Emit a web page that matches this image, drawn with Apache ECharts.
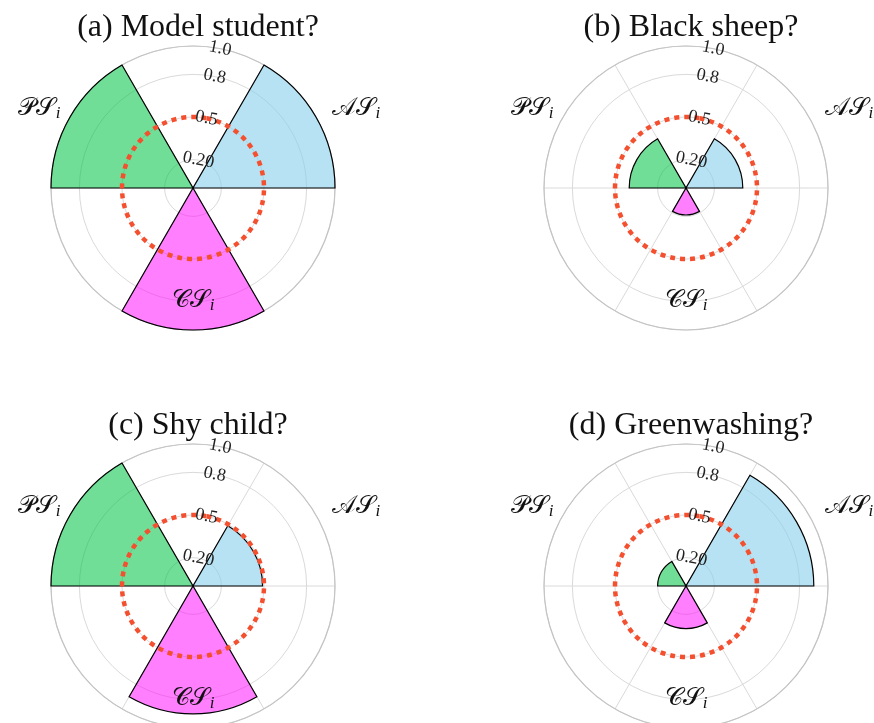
<!DOCTYPE html>
<html>
<head>
<meta charset="utf-8">
<script src="https://cdn.jsdelivr.net/npm/echarts@6/dist/echarts.min.js"></script>
<style>
  html, body { margin: 0; padding: 0; background: #ffffff; }
  #chart { width: 874px; height: 723px; }
</style>
</head>
<body>
<div id="chart"></div>
<script>
// Panel titles
const panelTitles = ['(a) Model student?', '(b) Black sheep?', '(c) Shy child?', '(d) Greenwashing?'];

// Scores per panel (a, b, c, d)
const asScores = [1.0, 0.40, 0.49, 0.90];
const psScores = [1.0, 0.40, 1.0, 0.20];
const csScores = [1.0, 0.19, 0.90, 0.30];

// Reference level drawn as the dotted circle
const thresholdValue = 0.5;

// Angular sectors: each score takes one 60-degree slot, the slots between stay empty
const sectorCategories = ['AS', 'gapAP', 'PS', 'gapPC', 'CS', 'gapCA'];
const scoreNames = { AS: '𝒜𝒮', PS: '𝒫𝒮', CS: '𝒞𝒮' };

// Radial rings and their labels
const radiusTicks = [0.2, 0.5, 0.8, 1.0];
const radiusTickLabels = ['0.20', '0.5', '0.8', '1.0'];

// ---- layout and styling ----
const centers = [[193, 188], [686, 188], [193, 586], [686, 586]];
const titleTops = [7, 7, 405, 405];
const R = 142;
const fills = {
  AS: 'rgba(135, 206, 235, 0.6)',
  PS: 'rgba(0, 196, 70, 0.56)',
  CS: 'rgba(255, 0, 255, 0.5)'
};
const serif = "'Liberation Serif', 'DejaVu Serif', serif";
const gridColor = '#dadada';

const scoreLabelPadding = {
  AS: [0, 0, 15, 52],
  PS: [0, 46, 15, 0],
  CS: [0, 0, 0, 0]
};

const option = {
  animation: false,
  backgroundColor: '#ffffff',
  title: [],
  polar: [],
  angleAxis: [],
  radiusAxis: [],
  series: []
};

panelTitles.forEach(function (text, p) {
  const c = centers[p];
  option.title.push({
    text: text,
    left: c[0],
    top: titleTops[p],
    textAlign: 'center',
    textStyle: { fontFamily: serif, fontSize: 32, fontWeight: 'normal', color: '#111111' }
  });

  const base = p * 3;
  // main polar: sectors, rings and spokes
  option.polar.push({ center: c, radius: R });
  // overlay: dotted reference circle and ring labels
  option.polar.push({ center: c, radius: R });
  // overlay: score names around the dial
  option.polar.push({ center: c, radius: R });

  option.angleAxis.push({
    polarIndex: base,
    type: 'category',
    data: sectorCategories,
    startAngle: 0,
    clockwise: false,
    boundaryGap: true,
    z: 0,
    axisLine: { show: true, lineStyle: { color: '#c4c4c4', width: 1.2 } },
    axisTick: { show: false },
    axisLabel: { show: false },
    splitLine: { show: true, lineStyle: { color: gridColor, width: 1 } }
  });
  option.radiusAxis.push({
    polarIndex: base,
    type: 'value',
    min: 0,
    max: 1,
    z: 0,
    axisLine: { show: false },
    axisTick: { show: false, customValues: radiusTicks },
    axisLabel: { show: false, customValues: radiusTicks },
    splitLine: { show: true, lineStyle: { color: gridColor, width: 1 } }
  });

  option.angleAxis.push({
    polarIndex: base + 1,
    type: 'category',
    data: ['all'],
    startAngle: 79,
    clockwise: false,
    axisLine: { show: false },
    axisTick: { show: false },
    axisLabel: { show: false },
    splitLine: { show: false }
  });
  option.radiusAxis.push({
    polarIndex: base + 1,
    type: 'value',
    min: 0,
    max: 1,
    z: 10,
    axisLine: { show: false },
    axisTick: { show: false, customValues: radiusTicks },
    splitLine: { show: false },
    axisLabel: {
      show: true,
      customValues: radiusTicks,
      showMinLabel: true,
      showMaxLabel: true,
      formatter: function (v) {
        const i = radiusTicks.findIndex(function (t) { return Math.abs(t - v) < 1e-9; });
        return i >= 0 ? radiusTickLabels[i] : '';
      },
      rotate: -11,
      margin: 0,
      align: 'center',
      verticalAlign: 'middle',
      fontFamily: serif,
      fontSize: 18,
      color: '#222222'
    }
  });

  option.angleAxis.push({
    polarIndex: base + 2,
    type: 'category',
    data: sectorCategories.map(function (k) {
      return scoreLabelPadding[k] ? { value: k, textStyle: { padding: scoreLabelPadding[k] } } : k;
    }),
    startAngle: 0,
    clockwise: false,
    z: 10,
    axisLine: { show: false },
    axisTick: { show: false },
    splitLine: { show: false },
    axisLabel: {
      show: true,
      interval: 0,
      margin: -42,
      formatter: function (v) {
        return scoreNames[v] ? '{n|' + scoreNames[v] + '}{s|i}' : '';
      },
      rich: {
        n: { fontFamily: serif, fontSize: 25, lineHeight: 27, color: '#111111', verticalAlign: 'top' },
        s: { fontFamily: serif, fontSize: 17, lineHeight: 17, fontStyle: 'italic', color: '#111111',
             verticalAlign: 'top', padding: [9, 0, 0, 1] }
      }
    }
  });
  option.radiusAxis.push({
    polarIndex: base + 2,
    type: 'value',
    min: 0,
    max: 1,
    axisLine: { show: false },
    axisTick: { show: false },
    axisLabel: { show: false },
    splitLine: { show: false }
  });

  const scores = { AS: asScores[p], PS: psScores[p], CS: csScores[p] };
  option.series.push({
    type: 'bar',
    coordinateSystem: 'polar',
    polarIndex: base,
    barCategoryGap: '0%',
    z: 2,
    silent: true,
    itemStyle: { borderColor: '#000000', borderWidth: 1.2 },
    data: sectorCategories.map(function (k) {
      return scores[k] != null ? { value: scores[k], itemStyle: { color: fills[k] } } : '-';
    })
  });
  option.series.push({
    type: 'bar',
    coordinateSystem: 'polar',
    polarIndex: base + 1,
    barCategoryGap: '0%',
    z: 4,
    silent: true,
    itemStyle: {
      color: 'rgba(0,0,0,0)',
      borderColor: '#f4502f',
      borderWidth: 4.5,
      borderType: [5, 5],
      borderCap: 'butt'
    },
    data: [thresholdValue]
  });
});

const chart = echarts.init(document.getElementById('chart'), null, { renderer: 'canvas' });
chart.setOption(option);
</script>
</body>
</html>
